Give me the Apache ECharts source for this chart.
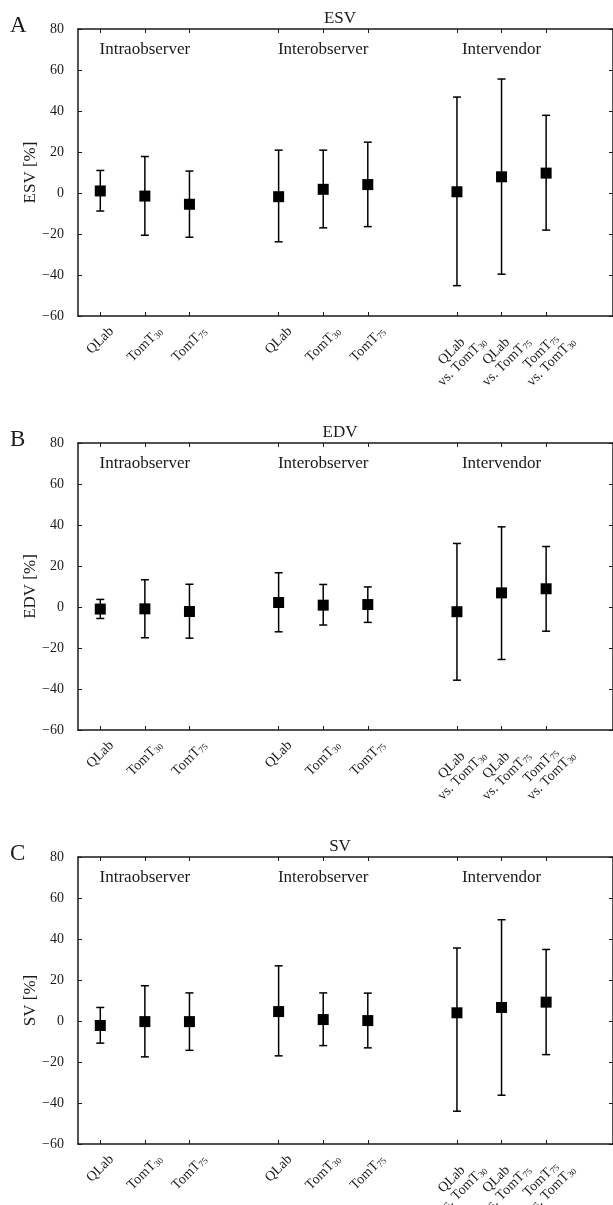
<!DOCTYPE html>
<html>
<head>
<meta charset="utf-8">
<script src="https://cdn.jsdelivr.net/npm/echarts@6/dist/echarts.min.js"></script>
<style>
html, body { margin: 0; padding: 0; background: #fff; }
#chart { width: 613px; height: 1205px; }
</style>
</head>
<body>
<div id="chart"></div>
<script>
// category slots on the x axis (3, 7 and 11 are gaps between groups)
var xPos = [0, 1, 2, 4, 5, 6, 8, 9, 10];
var xLabels = ['QLab', 'TomT_30', 'TomT_75', 'QLab', 'TomT_30', 'TomT_75',
  'QLab\nvs. TomT_30', 'QLab\nvs. TomT_75', 'TomT_75\nvs. TomT_30'];
var groupNames = ['Intraobserver', 'Interobserver', 'Intervendor'];
var groupPos = [1, 5, 9];
var panelNames = ['ESV', 'EDV', 'SV'];
var panelLetters = ['A', 'B', 'C'];

// mean difference and limits of agreement, in %
var esvMean = [1.0, -1.5, -5.5, -1.8, 1.8, 4.1, 0.6, 7.9, 9.7];
var esvLow = [-8.8, -20.6, -21.6, -23.8, -17.0, -16.4, -45.2, -39.6, -18.1];
var esvHigh = [11.0, 17.8, 10.7, 20.9, 20.9, 24.8, 46.8, 55.6, 37.9];

var edvMean = [-1.0, -0.9, -2.2, 2.2, 0.9, 1.2, -2.3, 6.9, 8.9];
var edvLow = [-5.6, -15.0, -15.2, -12.1, -8.8, -7.5, -35.7, -25.6, -11.8];
var edvHigh = [3.7, 13.3, 11.1, 16.7, 11.0, 9.8, 31.0, 39.1, 29.5];

var svMean = [-2.2, -0.3, -0.3, 4.6, 0.7, 0.2, 4.0, 6.6, 9.2];
var svLow = [-10.8, -17.5, -14.3, -17.0, -12.0, -13.1, -44.0, -36.2, -16.4];
var svHigh = [6.6, 17.2, 13.7, 26.9, 13.7, 13.6, 35.6, 49.4, 34.9];

var yMin = -60, yMax = 80, yStep = 20;

var panels = [
  { mean: esvMean, low: esvLow, high: esvHigh },
  { mean: edvMean, low: edvLow, high: edvHigh },
  { mean: svMean, low: svLow, high: svHigh }
];

var FONT = '"Liberation Serif", "Times New Roman", serif';
var INK = '#1a1a1a';
var panelTop = [29, 443, 857];
var panelH = 287;

var cats = [];
for (var i = 0; i < 12; i++) cats.push(String(i));

// text measuring for the rotated tick labels
var ctx = document.createElement('canvas').getContext('2d');
function textW(s, size) {
  ctx.font = size + 'px ' + FONT;
  return ctx.measureText(s).width;
}
function lineW(line) {
  var w = 0;
  line.split(/(_\d+)/).forEach(function (p) {
    if (!p) return;
    w += p[0] === '_' ? textW(p.slice(1), 9) : textW(p, 14);
  });
  return w;
}
function toRich(label) {
  return label.split('\n').map(function (line) {
    return line.split(/(_\d+)/).filter(Boolean).map(function (p) {
      return p[0] === '_' ? '{s|' + p.slice(1) + '}' : '{n|' + p + '}';
    }).join('');
  }).join('\n');
}
var richStyle = {
  n: { fontSize: 14, fontFamily: FONT, lineHeight: 15, fill: INK },
  s: { fontSize: 9, fontFamily: FONT, lineHeight: 15, fill: INK, verticalAlign: 'bottom' }
};

function errorBar(params, api) {
  var x = api.value(0);
  var lo = api.coord([x, api.value(1)]);
  var hi = api.coord([x, api.value(2)]);
  var cap = 4;
  var st = { stroke: '#000', lineWidth: 1.5 };
  return {
    type: 'group',
    children: [
      { type: 'line', shape: { x1: lo[0], y1: lo[1], x2: hi[0], y2: hi[1] }, style: st },
      { type: 'line', shape: { x1: lo[0] - cap, y1: lo[1], x2: lo[0] + cap, y2: lo[1] }, style: st },
      { type: 'line', shape: { x1: hi[0] - cap, y1: hi[1], x2: hi[0] + cap, y2: hi[1] }, style: st }
    ]
  };
}

function tickLabel(params, api) {
  var lab = xLabels[params.dataIndex];
  var p = api.coord([api.value(0), yMin]);
  var lines = lab.split('\n');
  var w = Math.max.apply(null, lines.map(lineW));
  var h = lines.length * 15;
  var half = (w + h) * Math.SQRT1_2 / 2;
  return {
    type: 'text',
    x: p[0],
    y: p[1] + 8 + half,
    rotation: Math.PI / 4,
    style: { text: toRich(lab), align: 'center', verticalAlign: 'middle', rich: richStyle }
  };
}

function groupLabel(params, api) {
  var p = api.coord([api.value(0), api.value(1)]);
  return {
    type: 'text', x: p[0], y: p[1],
    style: {
      text: groupNames[params.dataIndex], align: 'center', verticalAlign: 'middle',
      fontSize: 17, fontFamily: FONT, fill: INK
    }
  };
}

var axisLine = { show: true, onZero: false, lineStyle: { color: INK, width: 1.5 } };
var tickStyle = { color: INK, width: 1 };
function showTick(index) { return xPos.indexOf(index) >= 0; }

var option = {
  animation: false,
  backgroundColor: '#fff',
  title: [], grid: [], xAxis: [], yAxis: [], series: []
};

panels.forEach(function (pd, k) {
  var top = panelTop[k];
  option.title.push({
    text: panelNames[k], left: 340, top: top - 19, textAlign: 'center', padding: 0,
    textStyle: { fontFamily: FONT, fontSize: 17, fontWeight: 'normal', color: INK }
  });
  option.title.push({
    text: panelLetters[k], left: 10, top: top - 15, padding: 0,
    textStyle: { fontFamily: FONT, fontSize: 23, fontWeight: 'normal', color: INK }
  });
  option.grid.push({ left: 78, top: top, width: 537, height: panelH });

  option.xAxis.push({
    type: 'category', gridIndex: k, data: cats, position: 'bottom',
    axisLine: axisLine,
    axisTick: { show: true, inside: true, length: 4, alignWithLabel: true, interval: showTick, lineStyle: tickStyle },
    axisLabel: { show: false }, splitLine: { show: false }
  });
  option.xAxis.push({
    type: 'category', gridIndex: k, data: cats, position: 'top',
    axisLine: axisLine,
    axisTick: { show: true, inside: true, length: 4, alignWithLabel: true, interval: showTick, lineStyle: tickStyle },
    axisLabel: { show: false }, splitLine: { show: false }
  });
  option.yAxis.push({
    type: 'value', gridIndex: k, min: yMin, max: yMax, interval: yStep, position: 'left',
    name: panelNames[k] + ' [%]', nameLocation: 'middle', nameGap: 39, nameMoveOverlap: false,
    nameTextStyle: { fontFamily: FONT, fontSize: 17, color: INK },
    axisLine: axisLine,
    axisTick: { show: true, inside: true, length: 4, lineStyle: tickStyle },
    axisLabel: {
      margin: 14, fontFamily: FONT, fontSize: 14, color: INK,
      formatter: function (v) { return String(v).replace('-', '\u2212'); }
    },
    splitLine: { show: false }
  });
  option.yAxis.push({
    type: 'value', gridIndex: k, min: yMin, max: yMax, interval: yStep, position: 'right',
    axisLine: axisLine,
    axisTick: { show: true, inside: true, length: 4, lineStyle: tickStyle },
    axisLabel: { show: false }, splitLine: { show: false }
  });

  var xi = 2 * k, yi = 2 * k;
  option.series.push({
    type: 'custom', xAxisIndex: xi, yAxisIndex: yi, clip: false,
    renderItem: errorBar,
    encode: { x: 0, y: [1, 2] },
    data: xPos.map(function (x, i) { return [x, pd.low[i], pd.high[i]]; })
  });
  option.series.push({
    type: 'scatter', xAxisIndex: xi, yAxisIndex: yi,
    symbol: 'rect', symbolSize: 11, itemStyle: { color: '#000', opacity: 1 },
    data: xPos.map(function (x, i) { return [x, pd.mean[i]]; })
  });
  option.series.push({
    type: 'custom', xAxisIndex: xi, yAxisIndex: yi, clip: false,
    renderItem: tickLabel,
    data: xPos.map(function (x) { return [x, yMin]; })
  });
  option.series.push({
    type: 'custom', xAxisIndex: xi, yAxisIndex: yi, clip: false,
    renderItem: groupLabel,
    data: groupPos.map(function (x) { return [x, 70]; })
  });
});

var myChart = echarts.init(document.getElementById('chart'));
myChart.setOption(option);
</script>
</body>
</html>
